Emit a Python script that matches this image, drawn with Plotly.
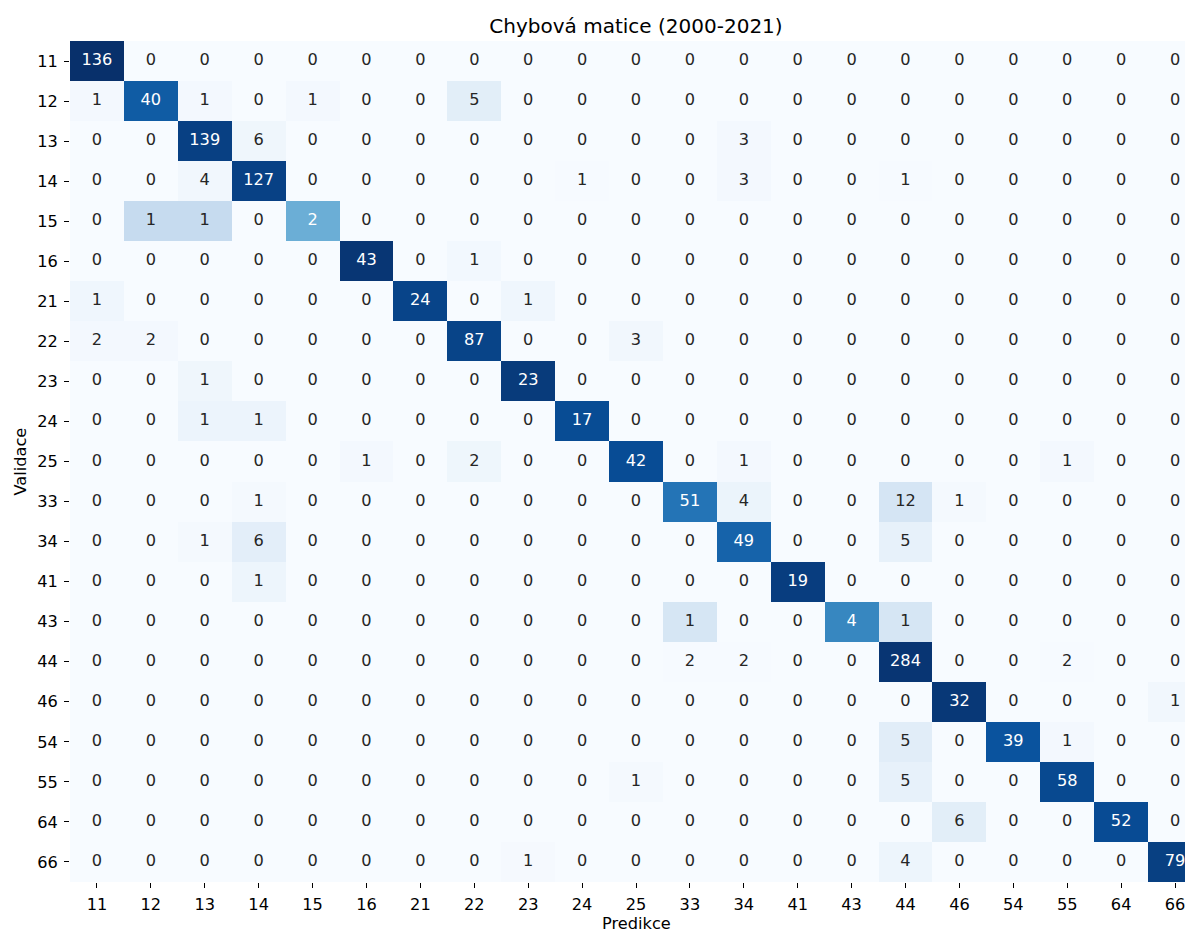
import numpy as np
import plotly.graph_objects as go

# Class labels (same order for validation rows and prediction columns)
labels = ["11", "12", "13", "14", "15", "16", "21", "22", "23", "24", "25",
          "33", "34", "41", "43", "44", "46", "54", "55", "64", "66"]

# Confusion matrix counts: rows = validation (true), cols = prediction
counts = [
    [136, 0, 0, 0, 0, 0, 0, 0, 0, 0, 0, 0, 0, 0, 0, 0, 0, 0, 0, 0, 0],
    [1, 40, 1, 0, 1, 0, 0, 5, 0, 0, 0, 0, 0, 0, 0, 0, 0, 0, 0, 0, 0],
    [0, 0, 139, 6, 0, 0, 0, 0, 0, 0, 0, 0, 3, 0, 0, 0, 0, 0, 0, 0, 0],
    [0, 0, 4, 127, 0, 0, 0, 0, 0, 1, 0, 0, 3, 0, 0, 1, 0, 0, 0, 0, 0],
    [0, 1, 1, 0, 2, 0, 0, 0, 0, 0, 0, 0, 0, 0, 0, 0, 0, 0, 0, 0, 0],
    [0, 0, 0, 0, 0, 43, 0, 1, 0, 0, 0, 0, 0, 0, 0, 0, 0, 0, 0, 0, 0],
    [1, 0, 0, 0, 0, 0, 24, 0, 1, 0, 0, 0, 0, 0, 0, 0, 0, 0, 0, 0, 0],
    [2, 2, 0, 0, 0, 0, 0, 87, 0, 0, 3, 0, 0, 0, 0, 0, 0, 0, 0, 0, 0],
    [0, 0, 1, 0, 0, 0, 0, 0, 23, 0, 0, 0, 0, 0, 0, 0, 0, 0, 0, 0, 0],
    [0, 0, 1, 1, 0, 0, 0, 0, 0, 17, 0, 0, 0, 0, 0, 0, 0, 0, 0, 0, 0],
    [0, 0, 0, 0, 0, 1, 0, 2, 0, 0, 42, 0, 1, 0, 0, 0, 0, 0, 1, 0, 0],
    [0, 0, 0, 1, 0, 0, 0, 0, 0, 0, 0, 51, 4, 0, 0, 12, 1, 0, 0, 0, 0],
    [0, 0, 1, 6, 0, 0, 0, 0, 0, 0, 0, 0, 49, 0, 0, 5, 0, 0, 0, 0, 0],
    [0, 0, 0, 1, 0, 0, 0, 0, 0, 0, 0, 0, 0, 19, 0, 0, 0, 0, 0, 0, 0],
    [0, 0, 0, 0, 0, 0, 0, 0, 0, 0, 0, 1, 0, 0, 4, 1, 0, 0, 0, 0, 0],
    [0, 0, 0, 0, 0, 0, 0, 0, 0, 0, 0, 2, 2, 0, 0, 284, 0, 0, 2, 0, 0],
    [0, 0, 0, 0, 0, 0, 0, 0, 0, 0, 0, 0, 0, 0, 0, 0, 32, 0, 0, 0, 1],
    [0, 0, 0, 0, 0, 0, 0, 0, 0, 0, 0, 0, 0, 0, 0, 5, 0, 39, 1, 0, 0],
    [0, 0, 0, 0, 0, 0, 0, 0, 0, 0, 1, 0, 0, 0, 0, 5, 0, 0, 58, 0, 0],
    [0, 0, 0, 0, 0, 0, 0, 0, 0, 0, 0, 0, 0, 0, 0, 0, 6, 0, 0, 52, 0],
    [0, 0, 0, 0, 0, 0, 0, 0, 1, 0, 0, 0, 0, 0, 0, 4, 0, 0, 0, 0, 79],
]

# ColorBrewer "Blues" anchors (linearly interpolated)
blues_hex = ["#f7fbff", "#deebf7", "#c6dbef", "#9ecae1", "#6baed6",
             "#4292c6", "#2171b5", "#08519c", "#08306b"]


def hex_to_rgb(h):
    h = h.lstrip("#")
    return np.array([int(h[i:i + 2], 16) for i in (0, 2, 4)], dtype=float)


anchors = np.array([hex_to_rgb(h) for h in blues_hex])
stops = np.linspace(0, 1, len(blues_hex))
colorscale = [[float(s), h] for s, h in zip(stops, blues_hex)]


def blues(v):
    return np.array([np.interp(v, stops, anchors[:, k]) for k in range(3)]) / 255.0


def luminance(rgb):
    lin = np.where(rgb <= 0.03928, rgb / 12.92, ((rgb + 0.055) / 1.055) ** 2.4)
    return 0.2126 * lin[0] + 0.7152 * lin[1] + 0.0722 * lin[2]


cm = np.array(counts, dtype=float)
norm = cm / cm.sum(axis=1, keepdims=True)  # row-normalised shares drive the colour
n = len(labels)
idx = list(range(n))

# Per-cell annotation text and its contrasting colour
tx, ty, tt, tc = [], [], [], []
for i in range(n):
    for j in range(n):
        tx.append(j)
        ty.append(i)
        tt.append(str(int(cm[i, j])))
        tc.append("#262626" if luminance(blues(norm[i, j])) > 0.408 else "#ffffff")

font = "DejaVu Sans, Liberation Sans, sans-serif"
fs = 16.2

fig = go.Figure()
fig.add_trace(go.Heatmap(
    z=norm, x=idx, y=idx, zmin=0, zmax=1,
    colorscale=colorscale, showscale=False, hoverinfo="skip", xgap=0, ygap=0,
))
fig.add_trace(go.Scatter(
    x=tx, y=ty, mode="text", text=tt,
    textfont=dict(family=font, size=fs, color=tc),
    hoverinfo="skip", showlegend=False,
))

cell_px = 53.9
right_clip = 17 / cell_px  # the last column runs past the page edge
plot_w = 1185 - 70
center_frac = (636 - 70) / plot_w

axis_common = dict(
    tickmode="array", tickvals=idx, ticktext=labels,
    ticks="outside", ticklen=5, tickwidth=1, tickcolor="#000000",
    ticklabelstandoff=3, ticklabeloverflow="allow",
    showgrid=False, zeroline=False, showline=False, fixedrange=True,
    tickfont=dict(family=font, size=fs, color="#000000"),
)

fig.update_layout(
    width=1185, height=933,
    margin=dict(l=70, r=0, t=41, b=51),
    paper_bgcolor="white", plot_bgcolor="white",
    font=dict(family=font, size=fs, color="#000000"),
    title=dict(text="Chybová matice (2000-2021)", x=636 / 1185,
               xanchor="center", y=1 - 26 / 933, yanchor="middle",
               font=dict(family=font, size=20, color="#000000")),
    xaxis=dict(range=[-0.5, n - 0.5 - right_clip], **axis_common),
    yaxis=dict(range=[n - 0.5, -0.5], **axis_common),
    annotations=[
        dict(text="Predikce", xref="paper", yref="paper", x=center_frac, y=0,
             yshift=-41, showarrow=False, xanchor="center", yanchor="middle",
             font=dict(family=font, size=fs, color="#000000")),
        dict(text="Validace", xref="paper", yref="paper", x=0, y=0.5, xshift=-50,
             textangle=-90, showarrow=False, xanchor="center", yanchor="middle",
             font=dict(family=font, size=fs, color="#000000")),
    ],
)

fig.write_html("out.html")
